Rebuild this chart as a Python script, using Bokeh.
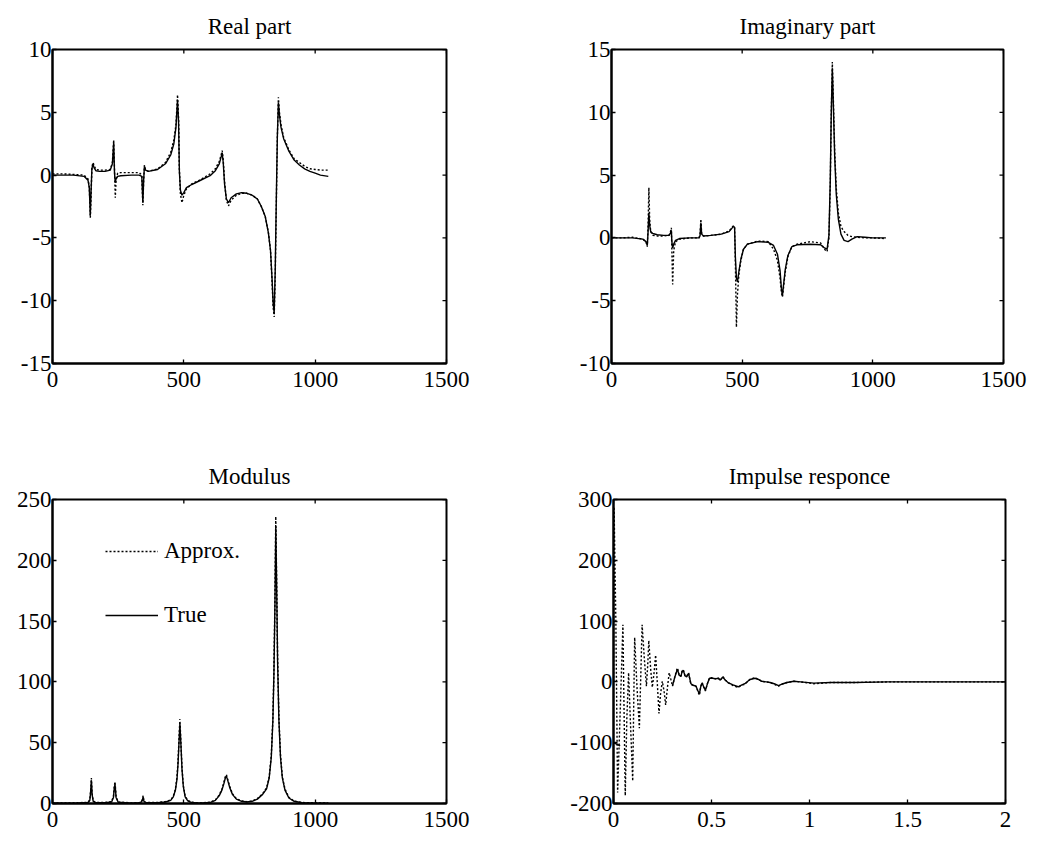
import math
from bokeh.plotting import figure
from bokeh.models import Range1d, FixedTicker, Legend, LegendItem
from bokeh.layouts import column, row
from bokeh.embed import file_html
from bokeh.resources import INLINE

NAN = float("nan")

# ---------------- data ----------------
# Real part
real_x = [0, 40, 80, 120, 135, 140, 144, 147, 150, 154, 158, 165, 180, 200, 220, 228, 233, 236, 239, 242,
          248, 260, 300, 330, 340, 344, 347, 350, 354, 365, 400, 430, 450, 462, 470, 476, 480, 483, 487, 493,
          500, 510, 530, 560, 600, 620, 635, 642, 646, 650, 655, 662, 670, 680, 700, 720, 740, 760, 780, 795,
          810, 822, 830, 836, 840, 844, 848, 852, 856, 860, 864, 870, 880, 900, 920, 940, 960, 980, 1000, 1020, 1050]
real_approx = [0.1, 0.1, 0.05, 0.0, -0.3, -0.9, -3.4, -1.5, 0.6, 1.0,
               0.8, 0.45, 0.4, 0.4, 0.45, 1.0, 2.8, 0.5, -1.8, -0.4,
               0.15, 0.2, 0.2, 0.2, 0.0, -2.4, -0.5, 0.8, 0.45, 0.3,
               0.5, 1.0, 1.8, 2.8, 4.0, 6.4, 4.5, 0.5, -1.5, -2.2,
               -1.6, -1.1, -0.7, -0.4, 0.1, 0.5, 1.1, 1.6, 1.95, 1.2,
               -0.5, -2.0, -2.45, -2.0, -1.6, -1.45, -1.45, -1.6, -1.9, -2.5,
               -3.3, -4.6, -6.0, -8.5, -10.5, -11.3, -8.0, -2.5, 3.0, 6.2,
               5.0, 4.0, 3.0, 2.0, 1.3, 1.0, 0.7, 0.5, 0.45, 0.4, 0.4]
real_true = [0.0, 0.0, 0.0, -0.1, -0.4, -1.0, -3.2, -1.2, 0.5, 0.9,
             0.6, 0.35, 0.3, 0.3, 0.4, 0.9, 2.6, 0.2, -0.6, -0.3,
             -0.1, -0.05, 0.0, 0.0, -0.1, -2.2, -0.4, 0.7, 0.4, 0.3,
             0.45, 0.9, 1.6, 2.5, 3.8, 6.0, 4.2, 0.3, -1.2, -1.6,
             -1.4, -1.0, -0.75, -0.45, -0.05, 0.35, 0.9, 1.45, 1.8, 1.0,
             -0.7, -1.9, -2.2, -1.8, -1.5, -1.4, -1.45, -1.6, -1.9, -2.5,
             -3.3, -4.6, -6.0, -8.3, -10.2, -11.0, -7.5, -2.0, 3.0, 5.8,
             4.8, 3.8, 2.9, 1.9, 1.2, 0.8, 0.5, 0.3, 0.15, 0.0, -0.1]

# Imaginary part
imag_x = [0, 40, 80, 120, 132, 137, 140, 143, 146, 150, 158, 175, 200, 220, 226, 229, 231, 234, 238, 245,
          260, 300, 335, 339, 342, 345, 352, 380, 420, 450, 466, 471, 474, 478, 482, 488, 495, 505, 520, 560,
          600, 620, 635, 645, 650, 654, 658, 665, 675, 690, 710, 760, 800, 815, 825, 832, 837, 841, 845, 849,
          854, 860, 868, 878, 890, 905, 920, 940, 970, 1000, 1050]
imag_approx = [0.0, 0.0, 0.05, -0.1, -0.3, -0.7, 1.0, 4.0, 1.5, 0.5,
               0.2, 0.15, 0.15, 0.2, 0.5, 0.8, -1.0, -3.7, -1.0, -0.3,
               -0.1, 0.0, 0.0, 0.3, 1.5, 0.3, 0.15, 0.2, 0.3, 0.55,
               0.95, 0.9, -2.0, -7.1, -4.5, -2.8, -1.8, -0.9, -0.5, -0.25,
               -0.3, -0.9, -1.8, -3.2, -4.3, -4.7, -4.0, -2.7, -1.5, -0.7,
               -0.5, -0.3, -0.4, -0.9, -1.1, 0.0, 4.0, 10.0, 14.0, 11.0,
               7.0, 4.0, 2.0, 0.9, 0.5, 0.2, 0.1, 0.05, 0.0, 0.0, -0.05]
imag_true = [0.0, 0.0, 0.0, -0.1, -0.3, -0.6, 0.5, 2.0, 1.0, 0.5,
             0.35, 0.25, 0.2, 0.2, 0.4, 0.6, -0.3, -0.8, -0.5, -0.2,
             -0.05, 0.0, 0.0, 0.2, 1.2, 0.3, 0.15, 0.2, 0.3, 0.5,
             0.9, 0.85, -1.5, -3.2, -3.5, -2.6, -1.7, -0.9, -0.5, -0.3,
             -0.35, -0.6, -1.3, -2.6, -4.0, -4.6, -3.8, -2.5, -1.4, -0.7,
             -0.55, -0.5, -0.55, -0.8, -0.9, 0.2, 4.5, 10.0, 13.5, 10.5,
             6.5, 3.5, 1.5, 0.3, -0.2, -0.3, -0.1, 0.1, 0.05, 0.0, 0.0]

# Modulus
mod_x = [0, 50, 100, 135, 142, 145, 148, 151, 155, 165, 200, 225, 232, 235, 238, 242, 250, 300, 335, 342,
         345, 348, 355, 400, 430, 450, 460, 468, 474, 478, 482, 485, 489, 493, 498, 505, 515, 530, 560, 600,
         620, 635, 645, 652, 658, 662, 667, 675, 685, 700, 720, 740, 760, 780, 800, 815, 825, 833, 839, 843,
         847, 850, 853, 857, 862, 868, 875, 885, 900, 920, 950, 1000, 1050]
mod_approx = [0.5, 0.5, 0.6, 1.0, 3, 10, 21, 8, 2, 0.8,
              0.8, 1.5, 6, 14, 18, 6, 1.2, 0.5, 0.8, 3,
              6.5, 2, 0.8, 0.8, 1.5, 3, 6, 12, 22, 35,
              55, 69.5, 50, 30, 15, 6, 2.5, 1.0, 0.5, 1.0,
              3, 7, 12, 17, 22, 23.7, 20, 14, 8, 4,
              2, 1.5, 2, 4, 8, 13, 22, 40, 70, 110,
              170, 236, 190, 120, 70, 40, 22, 12, 5, 2,
              0.8, 0.5, 0.3]
mod_true = [0.3, 0.3, 0.4, 0.8, 2.5, 9, 19, 7, 1.8, 0.6,
            0.6, 1.2, 5, 12, 16, 5, 1.0, 0.3, 0.6, 2.5,
            5.5, 1.8, 0.6, 0.6, 1.2, 2.6, 5.5, 11, 20, 33,
            52, 66, 48, 28, 14, 5.5, 2.2, 0.8, 0.3, 0.8,
            2.6, 6.5, 11, 16, 21, 22.5, 19, 13, 7.5, 3.6,
            1.8, 1.2, 1.8, 3.6, 7.5, 12, 21, 38, 68, 106,
            165, 228, 185, 116, 68, 38, 21, 11, 4.5, 1.8,
            0.6, 0.3, 0.2]

# Impulse responce
imp_x = [0.0, 0.003, 0.012, 0.021, 0.035, 0.048, 0.054, 0.060, 0.068, 0.077,
         0.088, 0.098, 0.103, 0.108, 0.120, 0.132, 0.140, 0.146, 0.157, 0.168,
         0.175, 0.180, 0.190, 0.198, 0.207, 0.215, 0.224, 0.232, 0.240, 0.249,
         0.258, 0.266, 0.275, 0.284, 0.292, 0.301, 0.314, 0.326, 0.335, 0.344,
         0.350, 0.356, 0.365, 0.373, 0.383, 0.395, 0.410, 0.421, 0.430, 0.438,
         0.445, 0.452, 0.460, 0.469, 0.480, 0.490, 0.507, 0.520, 0.533, 0.545,
         0.558, 0.570, 0.584, 0.610, 0.636, 0.655, 0.670, 0.696, 0.722, 0.740,
         0.756, 0.780, 0.799, 0.820, 0.842, 0.865, 0.885, 0.920, 0.954, 1.022,
         1.108, 1.229, 1.4, 1.6, 1.8, 2.0]
imp_approx = [0, 288, 100, -182, -40, 94, -50, -187, -60, 15,
              -80, -163, -40, 73, -10, -76, 20, 94, 40, -7,
              30, 68, 20, -9, 15, 44, -5, -52, -20, 1,
              -15, -38, -10, 15, 5, -7, 10, 23, 12, 9,
              18, 20, 10, 9, 15, -4, -6, -7, -15, -22,
              -8, -1, -8, -15, -2, 7, 7, 5, 7, 3,
              9, 3, -1, -6, -9, -5, -4, 4, 7, 4,
              1, 0, -1, -4, -7, -3, -1, 1, 0, -3,
              -1, -1, 0, 0, 0, 0]
imp_true_x = [0.0, 0.034, NAN, 0.301, 0.314, 0.326, 0.335, 0.344, 0.350, 0.356,
              0.365, 0.373, 0.383, 0.395, 0.410, 0.421, 0.430, 0.438, 0.445, 0.452,
              0.460, 0.469, 0.480, 0.490, 0.507, 0.520, 0.533, 0.545, 0.558, 0.570,
              0.584, 0.610, 0.636, 0.655, 0.670, 0.696, 0.722, 0.740, 0.756, 0.780,
              0.799, 0.820, 0.842, 0.865, 0.885, 0.920, 0.954, 1.022, 1.108, 1.229,
              1.4, 1.6, 1.8, 2.0]
imp_true = [-100, -105, NAN, -6, 9, 21, 11, 9, 17, 19,
            10, 8, 14, -3, -6, -7, -14, -20, -8, -2,
            -8, -14, -2, 6, 6, 5, 6, 3, 8, 3,
            -1, -5, -8, -5, -3, 4, 6, 4, 1, 0,
            -1, -3, -6, -3, -1, 1, 0, -2, -1, -1,
            0, 0, 0, 0]

freq_ticks = [0, 500, 1000, 1500]
freq_labels = ["0", "500", "1000", "1500"]
time_ticks = [0, 0.5, 1, 1.5, 2]
time_labels = ["0", "0.5", "1", "1.5", "2"]
real_ticks = [-15, -10, -5, 0, 5, 10]
real_labels = ["-15", "-10", "-5", "0", "5", "10"]
imag_ticks = [-10, -5, 0, 5, 10, 15]
imag_labels = ["-10", "-5", "0", "5", "10", "15"]
mod_ticks = [0, 50, 100, 150, 200, 250]
mod_labels = ["0", "50", "100", "150", "200", "250"]
imp_ticks = [-200, -100, 0, 100, 200, 300]
imp_labels = ["-200", "-100", "0", "100", "200", "300"]

for a, b in [(real_x, real_approx), (real_x, real_true), (imag_x, imag_approx), (imag_x, imag_true),
             (mod_x, mod_approx), (mod_x, mod_true), (imp_x, imp_approx), (imp_true_x, imp_true)]:
    assert len(a) == len(b), (len(a), len(b))

FONT = "Liberation Serif"
FS = "23px"
LW = 1.4
DASH = "2 2"
TICK = 4


def style_axis(ax, ticks, labels, standoff):
    ax.ticker = FixedTicker(ticks=ticks)
    ax.major_label_overrides = {t: l for t, l in zip(ticks, labels)}
    ax.major_tick_in = TICK
    ax.major_tick_out = 0
    ax.minor_tick_in = 0
    ax.minor_tick_out = 0
    ax.axis_line_color = "black"
    ax.axis_line_width = 2
    ax.major_tick_line_color = "black"
    ax.major_tick_line_width = 1.3
    ax.major_label_text_font = FONT
    ax.major_label_text_font_size = FS
    ax.major_label_text_color = "black"
    ax.major_label_standoff = standoff


def make_fig(title, xr, yr, xt, xl, yt, yl, width, height, bl, br, bt, bb):
    p = figure(width=width, height=height, output_backend="svg", toolbar_location=None,
               x_range=Range1d(*xr), y_range=Range1d(*yr),
               min_border_left=bl, min_border_right=br, min_border_top=bt, min_border_bottom=bb)
    p.title.text = title
    p.title.text_font = FONT
    p.title.text_font_size = FS
    p.title.text_font_style = "normal"
    p.title.text_color = "black"
    p.title.align = "center"
    p.title.standoff = 22
    p.grid.visible = False
    p.outline_line_color = "black"
    p.outline_line_width = 2
    p.background_fill_color = "white"
    p.border_fill_color = "white"
    style_axis(p.xaxis[0], xt, xl, 8)
    style_axis(p.yaxis[0], yt, yl, 1)
    # inward ticks on the top and right edges of the box
    p.ray(x=xt, y=[yr[1]] * len(xt), length=TICK, length_units="screen",
          angle=-math.pi / 2, line_color="black", line_width=1.3)
    p.ray(x=[xr[1]] * len(yt), y=yt, length=TICK, length_units="screen",
          angle=math.pi, line_color="black", line_width=1.3)
    return p


p1 = make_fig("Real part", (0, 1500), (-15, 10), freq_ticks, freq_labels, real_ticks, real_labels,
              567, 450, 52, 121, 49, 87)
p1.line(real_x, real_true, line_color="black", line_width=LW)
p1.line(real_x, real_approx, line_color="black", line_width=LW, line_dash=DASH)

p2 = make_fig("Imaginary part", (0, 1500), (-10, 15), freq_ticks, freq_labels, imag_ticks, imag_labels,
              471, 450, 44, 35, 49, 87)
p2.line(imag_x, imag_true, line_color="black", line_width=LW)
p2.line(imag_x, imag_approx, line_color="black", line_width=LW, line_dash=DASH)

p3 = make_fig("Modulus", (0, 1500), (0, 250), freq_ticks, freq_labels, mod_ticks, mod_labels,
              567, 391, 52, 121, 40, 38)
r_true = p3.line(mod_x, mod_true, line_color="black", line_width=LW)
r_approx = p3.line(mod_x, mod_approx, line_color="black", line_width=LW, line_dash=DASH)
legend = Legend(items=[LegendItem(label="Approx.", renderers=[r_approx]),
                       LegendItem(label="True", renderers=[r_true])],
                location=(53, 175), border_line_color=None, background_fill_alpha=0,
                glyph_width=53, glyph_height=20, label_standoff=6, spacing=38,
                padding=0, margin=0, label_text_font=FONT, label_text_font_size=FS,
                label_text_color="black")
p3.add_layout(legend)

p4 = make_fig("Impulse responce", (0, 2), (-200, 300), time_ticks, time_labels, imp_ticks, imp_labels,
              471, 391, 45, 33, 39, 37)
p4.line(imp_true_x, imp_true, line_color="black", line_width=LW)
p4.line(imp_x, imp_approx, line_color="black", line_width=LW, line_dash=DASH)

layout = column(row(p1, p2), row(p3, p4))
open("out.html", "w").write(file_html(layout, INLINE))
